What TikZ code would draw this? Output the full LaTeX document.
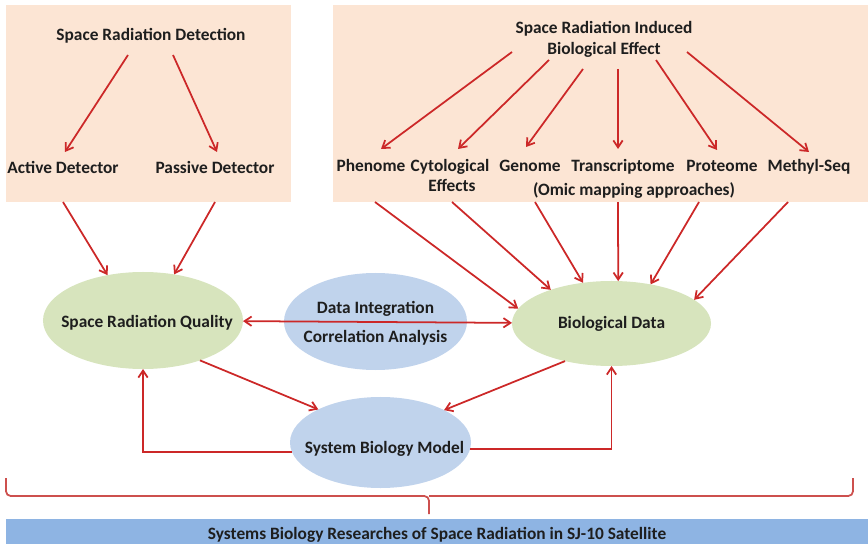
\documentclass[tikz,border=0pt]{standalone}
\usepackage{fontspec}
\setmainfont{Carlito}
\usepackage{xcolor}
\usepackage{tikz}
\usetikzlibrary{arrows.meta}
\usetikzlibrary{calc}
\usetikzlibrary{shapes.geometric}

\definecolor{peach}{RGB}{252,229,212}
\definecolor{leaf}{RGB}{215,228,189}
\definecolor{sky}{RGB}{192,211,236}
\definecolor{barblue}{RGB}{142,180,227}
\definecolor{arrowred}{RGB}{204,40,40}
\definecolor{bracered}{RGB}{205,80,78}
\definecolor{ink}{RGB}{30,30,30}

\begin{document}
\begin{tikzpicture}[x=0.03cm,y=-0.03cm,>={Straight Barb[length=6pt,width=8pt]},line width=1.5pt,
	font=\fontsize{14.8}{18}\selectfont\bfseries]
				\tikzstyle{panel}=[rectangle, fill=peach, inner sep=0pt, outer sep=0pt, minimum height=5.91cm]
				\tikzstyle{lbl}=[text=ink, inner sep=2pt, text height=1.6ex, text depth=.4ex]
				\tikzstyle{datanode}=[ellipse, fill=leaf, inner sep=0pt, outer sep=0pt]
				\tikzstyle{hubnode}=[ellipse, fill=sky, inner sep=0pt, outer sep=0pt]
				\tikzstyle{link}=[arrowred, ->]
				\useasboundingbox (0,0) rectangle (868,544);
				% background panels
					 \node[panel, minimum width=8.55cm]  (lbox) at (148.5,103.5) {};
					 \node[panel, minimum width=16.05cm] (rbox) at (600.5,103.5) {};
				% detection side
					 \node[lbl] (srd) at (151,37)  {Space Radiation Detection};
					 \node[lbl] (ad)  at (63,170)  {Active Detector};
					 \node[lbl] (pd)  at (215,170) {Passive Detector};
				% biological side
					 \node[text=ink, align=center] (sri) at (604,39.5) {Space Radiation Induced\\Biological Effect};
					 \node[lbl] (ph)  at (371,168) {Phenome};
					 \node[lbl] (cy)  at (450,168) {Cytological};
					 \node[lbl] (cye) at (452,188) {Effects};
					 \node[lbl] (ge)  at (530,168) {Genome};
					 \node[lbl] (tr)  at (623,168) {Transcriptome};
					 \node[lbl] (pr)  at (722,168) {Proteome};
					 \node[lbl] (me)  at (809,168) {Methyl-Seq};
					 \node[lbl] (om)  at (634,192) {(Omic mapping approaches)};
				% data ellipses
					 \node[datanode, minimum width=6cm, minimum height=2.91cm,
						label={[text=ink, xshift=.12cm, yshift=-.07cm]center:Space Radiation Quality}] (srq) at (143,320.5) {};
					 \node[hubnode, minimum width=5.49cm, minimum height=2.91cm,
						label={[text=ink, align=center, font=\fontsize{14.8}{25}\selectfont\bfseries, yshift=-.06cm]center:Data Integration\\Correlation Analysis}] (dia) at (375.5,321.5) {};
					 \node[datanode, minimum width=5.97cm, minimum height=2.55cm,
						label={[text=ink]center:Biological Data}] (bd) at (611.5,323.5) {};
					 \node[hubnode, minimum width=5.43cm, minimum height=2.73cm,
						label={[text=ink, xshift=.12cm, yshift=-.2cm]center:System Biology Model}] (sbm) at (380.5,442.5) {};
				% satellite bar, runs off the bottom edge
					 \node[rectangle, fill=barblue, text=ink, minimum width=25.86cm, minimum height=.96cm, inner sep=0pt] (sat) at (437,535)
						{Systems Biology Researches of Space Radiation in SJ-10 Satellite};
				\path[link]
				($(srd)+(-23,18)$) edge ($(ad)+(2,-18)$)
				($(srd)+(22,18)$)  edge ($(pd)+(2,-18)$)
				($(sri)+(-92,12.5)$) edge ($(ph)+(10,-19)$)
				($(sri)+(-55,20.5)$) edge ($(cy)+(8,-19)$)
				($(sri)+(-21,29.5)$) edge ($(ge)+(-4,-21)$)
				($(sri)+(14,29.5)$)  edge ($(tr)+(-5,-19)$)
				($(sri)+(52,20.5)$)  edge ($(pr)+(-5,-18)$)
				($(sri)+(83,12.5)$)  edge ($(me)+(0,-16)$)
				(ad |- lbox.south) edge (srq.128)
				(pd |- lbox.south) edge (srq.56)
				($(ph |- rbox.south)+(4,0)$)   edge (bd.171)
				(cye |- rbox.south)            edge (bd.151)
				($(ge |- rbox.south)+(5,0)$)   edge (bd.125)
				($(tr |- rbox.south)+(-5,0)$)  edge (bd.81)
				($(pr |- rbox.south)+(-23,0)$) edge (bd.45)
				($(me |- rbox.south)+(-21,0)$) edge (bd.16)
				(srq.-35) edge (sbm.152)
				(bd.-141) edge (sbm.27)
				(srq) edge[<->] (bd);
				\draw[link] (sbm.186) -| (srq.south);
				\draw[link] (sbm.-4) -| (bd.south);
				% bracket over the bar
				\coordinate (bl) at (6,478);
				\coordinate (br) at (853,478);
				\coordinate (bm) at (429,496);
				\coordinate (bt) at (429,514);
				\draw[bracered, line width=1.5pt, rounded corners=4pt] (bl) |- (bm) -- (bt) (bm) -| (br);
\end{tikzpicture}
\end{document}
